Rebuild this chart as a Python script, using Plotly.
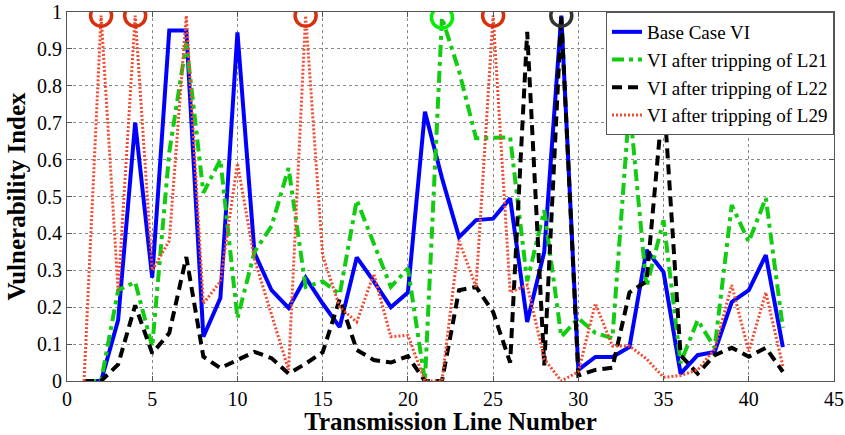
import plotly.graph_objects as go

lines = list(range(1, 43))

base_vi = [0, 0, 0.165, 0.70, 0.28, 0.95, 0.95, 0.12, 0.225, 0.945,
           0.347, 0.246, 0.198, 0.28, 0.21, 0.146, 0.335, 0.27, 0.20, 0.24,
           0.73, 0.55, 0.39, 0.436, 0.44, 0.495, 0.16, 0.35, 0.99, 0.03,
           0.065, 0.065, 0.092, 0.355, 0.295, 0.02, 0.07, 0.079, 0.214, 0.246,
           0.341, 0.092]

vi_l21 = [0, 0, 0.246, 0.268, 0.093, 0.62, 0.916, 0.51, 0.60, 0.17,
          0.35, 0.42, 0.577, 0.255, 0.27, 0.235, 0.49, 0.375, 0.255, 0.305,
          0.0, 0.985, 0.84, 0.658, 0.66, 0.66, 0.27, 0.463, 0.12, 0.17,
          0.13, 0.116, 0.75, 0.255, 0.436, 0.049, 0.165, 0.09, 0.477, 0.377,
          0.496, 0.144]

vi_l22 = [0, 0, 0.045, 0.205, 0.075, 0.13, 0.336, 0.066, 0.035, 0.057,
          0.079, 0.062, 0.02, 0.047, 0.078, 0.222, 0.084, 0.057, 0.05, 0.067,
          0.0, 0.0, 0.246, 0.255, 0.187, 0.05, 0.946, 0.042, 0.99, 0.015,
          0.03, 0.036, 0.24, 0.27, 0.78, 0.07, 0.02, 0.07, 0.09, 0.066,
          0.09, 0.025]

vi_l29 = [0, 0.99, 0.245, 0.99, 0.30, 0.38, 0.99, 0.21, 0.27, 0.59,
          0.33, 0.18, 0.03, 0.99, 0.34, 0.20, 0.16, 0.29, 0.12, 0.124,
          0.0, 0.0, 0.38, 0.255, 0.99, 0.24, 0.26, 0.06, 0.0, 0.025,
          0.21, 0.095, 0.095, 0.06, 0.01, 0.015, 0.03, 0.087, 0.26, 0.08,
          0.24, 0.04]

names = ["Base Case VI", "VI after tripping of L21",
         "VI after tripping of L22", "VI after tripping of L29"]

# highlighted critical lines (circled at the top of the plot)
marked_l21 = [22]
marked_l22 = [29]
marked_l29 = [2, 4, 14, 25]

x_ticks = [0, 5, 10, 15, 20, 25, 30, 35, 40, 45]
y_ticks = [0, 0.1, 0.2, 0.3, 0.4, 0.5, 0.6, 0.7, 0.8, 0.9, 1]
y_tick_text = ["0", "0.1", "0.2", "0.3", "0.4", "0.5", "0.6", "0.7", "0.8", "0.9", "1"]

FONT = "Liberation Serif, Times New Roman, serif"

fig = go.Figure()

fig.add_trace(go.Scatter(x=lines, y=base_vi, name=names[0], mode="lines",
                         line=dict(color="#0000ff", width=4)))
fig.add_trace(go.Scatter(x=lines, y=vi_l21, name=names[1], mode="lines",
                         line=dict(color="#11cc11", width=4, dash="12px,5px,4px,5px")))
fig.add_trace(go.Scatter(x=lines, y=vi_l22, name=names[2], mode="lines",
                         line=dict(color="#000000", width=4, dash="10px,6px")))
fig.add_trace(go.Scatter(x=lines, y=vi_l29, name=names[3], mode="lines",
                         line=dict(color="#f24a30", width=3, dash="2px,2px")))

def marks(idx, series, color):
    return go.Scatter(x=idx, y=[series[i - 1] for i in idx], mode="markers",
                      showlegend=False, hoverinfo="skip",
                      marker=dict(symbol="circle-open", size=21, color=color,
                                  line=dict(width=3.5, color=color)))

fig.add_trace(marks(marked_l29, vi_l29, "#d8300f"))
fig.add_trace(marks(marked_l21, vi_l21, "#00ee00"))
fig.add_trace(marks(marked_l22, vi_l22, "#333333"))

axis_common = dict(showline=True, linecolor="#555555", linewidth=1, mirror="ticks",
                   ticks="inside", ticklen=5, tickcolor="#555555",
                   showgrid=True, gridcolor="#8a8a8a", griddash="dot", gridwidth=1,
                   zeroline=False, ticklabeloverflow="allow", automargin=False,
                   tickfont=dict(family=FONT, size=20, color="#000"))

fig.update_layout(
    width=845, height=435,
    margin=dict(l=67, r=11, t=12, b=54),
    paper_bgcolor="white", plot_bgcolor="white",
    font=dict(family=FONT, color="#000"),
    xaxis=dict(range=[0, 45], tickvals=x_ticks,
               title=dict(text="<b>Transmission Line Number</b>",
                          font=dict(family=FONT, size=25), standoff=4),
               **axis_common),
    yaxis=dict(range=[0, 1], tickvals=y_ticks, ticktext=y_tick_text,
               title=dict(text="<b>Vulnerability Index</b>",
                          font=dict(family=FONT, size=25), standoff=4),
               **axis_common),
    legend=dict(x=1, y=1, xanchor="right", yanchor="top",
                bgcolor="white", bordercolor="#555555", borderwidth=1,
                font=dict(family=FONT, size=19), tracegroupgap=0,
                itemwidth=30),
    showlegend=True,
)

fig.write_html("out.html")
